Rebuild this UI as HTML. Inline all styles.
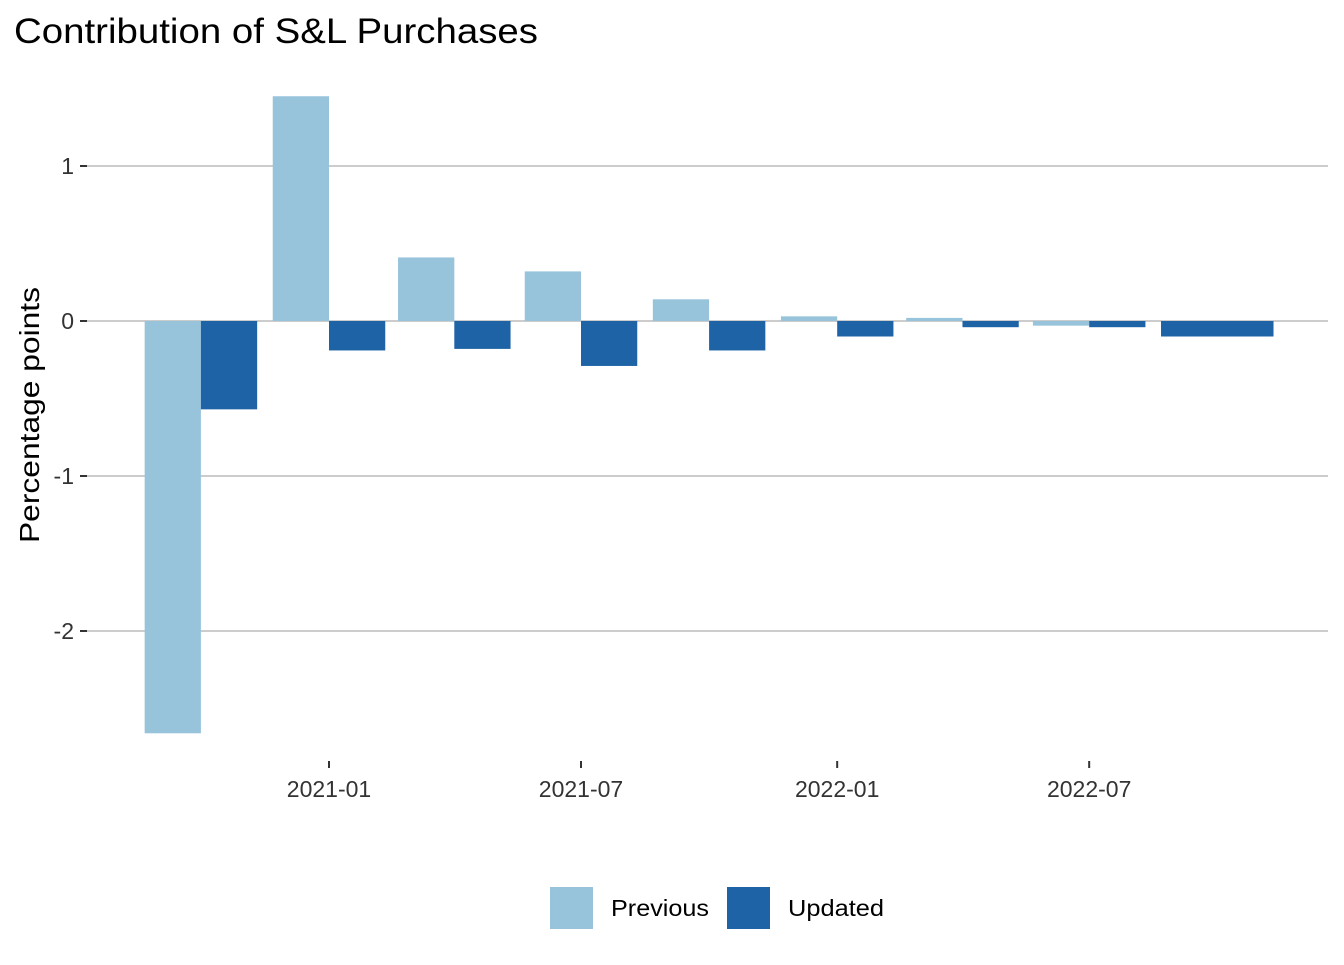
<!DOCTYPE html>
<html><head><meta charset="utf-8"><style>
body{margin:0;background:#fff;font-family:"Liberation Sans",Arial,sans-serif}
</style></head><body>
<svg width="1344" height="960" xmlns="http://www.w3.org/2000/svg" font-family="Liberation Sans, Arial, sans-serif">
<text x="14" y="43" font-size="35" fill="#000" textLength="524" lengthAdjust="spacingAndGlyphs">Contribution of S&amp;L Purchases</text>
<text transform="translate(39,415) rotate(-90)" text-anchor="middle" font-size="28" fill="#000" textLength="256" lengthAdjust="spacingAndGlyphs">Percentage points</text>
<g id="grid"></g><g id="bars"></g><g id="axes"></g>
<g>
<rect x="550" y="887" width="43" height="42" fill="#97c3db"/>
<text x="611" y="916" font-size="23" fill="#000" textLength="98" lengthAdjust="spacingAndGlyphs">Previous</text>
<rect x="727" y="887" width="43" height="42" fill="#1e63a6"/>
<text x="788" y="916" font-size="23" fill="#000" textLength="96" lengthAdjust="spacingAndGlyphs">Updated</text>
</g>
</svg>
<script>
const dates=["2020-10-01","2021-01-01","2021-04-01","2021-07-01","2021-10-01","2022-01-01","2022-04-01","2022-07-01","2022-10-01"];
const previous=[-2.66,1.45,0.41,0.32,0.14,0.03,0.02,-0.03,null];
const updated=[-0.57,-0.19,-0.18,-0.29,-0.19,-0.10,-0.04,-0.04,-0.10];
const yTicks=[-2,-1,0,1];
const xTicks=["2021-01","2021-07","2022-01","2022-07"];
const NS="http://www.w3.org/2000/svg";
const day=d=>Date.parse(d+"T00:00:00Z")/864e5;
const d0=day("2021-01-01"),pxPerDay=252/181;
const X=d=>329+(day(d)-d0)*pxPerDay;
const Y=v=>321-v*155;
function mk(t,a,p){const e=document.createElementNS(NS,t);for(const k in a)e.setAttribute(k,a[k]);p.appendChild(e);return e;}
const grid=document.getElementById('grid'),bars=document.getElementById('bars'),axes=document.getElementById('axes');
yTicks.forEach(v=>{
 const l=mk('line',{x1:80,x2:1328,y1:Y(v),y2:Y(v),stroke:'#cccccc','stroke-width':2},grid);
 
 
 const t=mk('line',{x1:80,x2:87,y1:Y(v),y2:Y(v),stroke:'#333','stroke-width':2},axes);
 
 
 const tx=mk('text',{x:74,y:Y(v)+8,'text-anchor':'end','font-size':23,fill:'#333'},axes);
 tx.textContent=String(v);
 
 
});
xTicks.forEach(s=>{
 const x=X(s+"-01");
 const t=mk('line',{x1:x,x2:x,y1:761,y2:768,stroke:'#333','stroke-width':2},axes);
 
 
 const tx=mk('text',{x:x,y:797,'text-anchor':'middle','font-size':23,fill:'#333'},axes);
 tx.textContent=s;
 
 
});
const W=112.5;
dates.forEach((d,i)=>{
 const c=X(d);
 const series=[];
 if(previous[i]!=null)series.push([previous[i],'#97c3db','previous']);
 if(updated[i]!=null)series.push([updated[i],'#1e63a6','updated']);
 const bw=W/series.length;
 series.forEach((s,j)=>{
  const v=s[0];
  const r=mk('rect',{x:c-W/2+j*bw,y:Math.min(Y(v),Y(0)),width:bw,height:Math.abs(Y(v)-Y(0)),fill:s[1]},bars);
  
  
 });
});
</script>
</body></html>
